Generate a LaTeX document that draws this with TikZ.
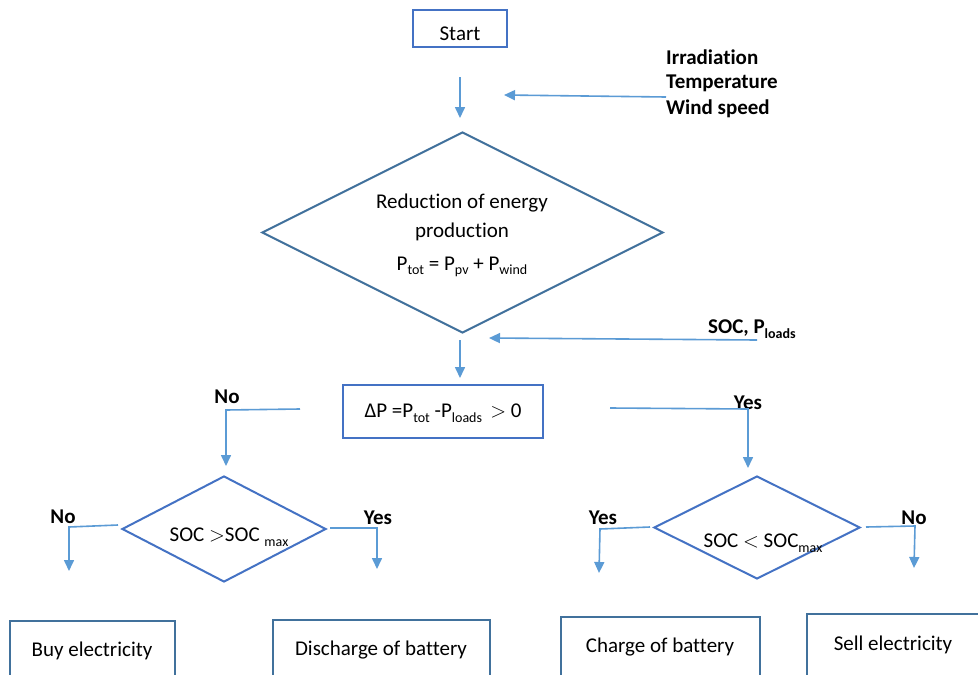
\documentclass[tikz,border=0pt]{standalone}
\usepackage{fontspec}
\setmainfont{Carlito}[Ligatures=CommonOff]
\usetikzlibrary{shapes.geometric,arrows.meta}
\definecolor{bord}{RGB}{68,114,196}
\definecolor{steel}{RGB}{65,113,156}
\definecolor{arrc}{RGB}{91,155,213}
\newcommand\sbs[1]{\raisebox{-0.22em}{\fontsize{14}{14}\selectfont #1}}
\tikzset{
  box/.style={draw=bord,line width=2pt,minimum width=#1,inner sep=0pt},
  dia/.style={draw=bord,line width=2pt,diamond,inner sep=0pt},
  arr/.style={draw=arrc,line width=1.6pt,-{Triangle[width=10pt,length=11pt]}},
  lbl/.style={font=\fontsize{21}{21}\selectfont\bfseries,inner sep=0pt},
  txt/.style={font=\fontsize{21}{24}\selectfont,inner sep=0pt,align=center},
}
\begin{document}
\begin{tikzpicture}[x=1pt,y=-1pt]
\clip (0,0) rectangle (978,675);
\fill[white] (0,0) rectangle (978,675);
% nodes
\node[box=94pt,minimum height=37pt] (start) at (460,28.5) {};
\node[txt] (tstart) at (460,34) {Start};
\node[dia,draw=steel,minimum width=401pt,minimum height=201pt] (d1) at (462.5,232.5) {};
\node[txt] (t1a) at (462,203) {Reduction of energy};
\node[txt] (t1b) at (462,232) {production};
\node[txt] (t1c) at (462,267) {P\sbs{tot} = P\sbs{pv} + P\sbs{wind}};
\node[box=200pt,minimum height=53pt] (dp) at (443,411.5) {};
\node[txt] (tdp) at (443,413) {ΔP =P\sbs{tot} -P\sbs{loads} \,$>$ 0};
\node[dia,minimum width=204pt,minimum height=106pt] (d2) at (224,529) {};
\node[txt] (t2) at (229,537) {SOC $>$SOC \sbs{max}};
\node[dia,minimum width=206pt,minimum height=103pt] (d3) at (757,527.5) {};
\node[txt] (t3) at (763,543) {SOC $<$ SOC\sbs{max}};
\node[box=165pt,minimum height=79pt,draw=steel] (buy) at (92.5,660.5) {};
\node[txt] (tbuy) at (92,651) {Buy electricity};
\node[box=217pt,minimum height=80pt,draw=steel] (dis) at (381.5,660) {};
\node[txt] (tdis) at (381,650) {Discharge of battery};
\node[box=199pt,minimum height=83pt,draw=steel] (chg) at (660.5,658.5) {};
\node[txt] (tchg) at (660,647) {Charge of battery};
\node[box=172pt,minimum height=86pt,draw=steel] (sell) at (893,657) {};
\node[txt] (tsell) at (893,645) {Sell electricity};
% labels
\node[lbl,anchor=west] (l1) at (666,57) {Irradiation};
\node[lbl,anchor=west] (l2) at (666,83) {Temperature};
\node[lbl,anchor=west] (l3) at (666,109) {Wind speed};
\node[lbl,anchor=west] (l4) at (708,329) {SOC, P\sbs{\bfseries loads}};
\node[lbl] (no1) at (227,397) {No};
\node[lbl] (yes1) at (748,403) {Yes};
\node[lbl] (no2) at (63,517) {No};
\node[lbl] (yes2) at (378,518) {Yes};
\node[lbl] (yes3) at (603,518) {Yes};
\node[lbl] (no3) at (914,518) {No};
% connectors
\coordinate (a1s) at (460,77);
\coordinate (a1e) at (460,118);
\draw[arr] (a1s) -- (a1e);
\coordinate (a2s) at (666,97);
\coordinate (a2e) at (504,95);
\draw[arr] (a2s) -- (a2e);
\coordinate (a3s) at (460,340);
\coordinate (a3e) at (460,378);
\draw[arr] (a3s) -- (a3e);
\coordinate (a4s) at (757,340);
\coordinate (a4e) at (489,338);
\draw[arr] (a4s) -- (a4e);
\coordinate (a5s) at (300,409);
\coordinate (a5e) at (226,466);
\draw[arr] (a5s) -- (226,410) -- (a5e);
\coordinate (a6s) at (610,408);
\coordinate (a6e) at (748,468);
\draw[arr] (a6s) -- (748,409) -- (a6e);
\coordinate (a7s) at (118,525);
\coordinate (a7e) at (69,571);
\draw[arr] (a7s) -- (69,527) -- (a7e);
\coordinate (a8s) at (330,528);
\coordinate (a8e) at (377,569);
\draw[arr] (a8s) -- (377,528) -- (a8e);
\coordinate (a9s) at (650,527);
\coordinate (a9e) at (599,573);
\draw[arr] (a9s) -- (600,529) -- (a9e);
\coordinate (a10s) at (866,527);
\coordinate (a10e) at (914,568);
\draw[arr] (a10s) -- (915,526) -- (a10e);
\end{tikzpicture}
\end{document}
